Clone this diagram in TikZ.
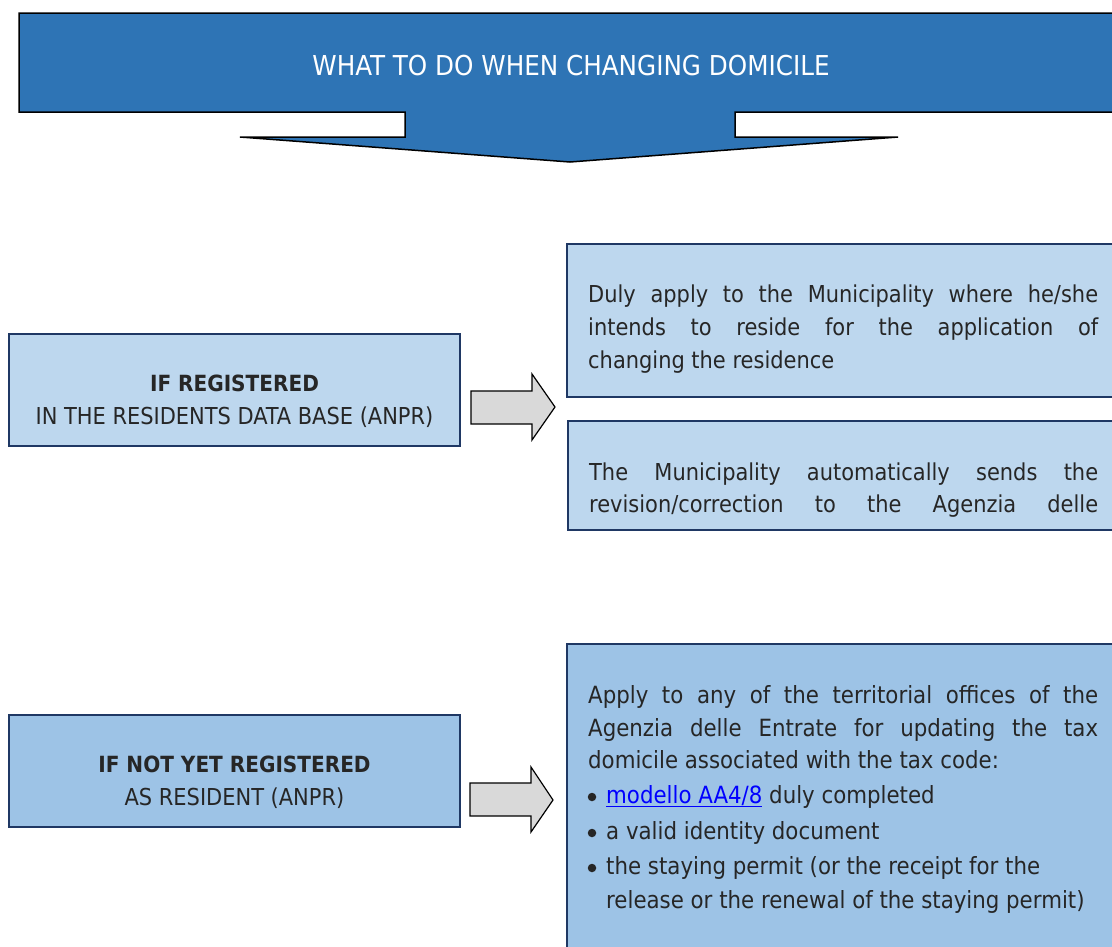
\documentclass[tikz,border=0pt]{standalone}
\usepackage{fontspec}
\setmainfont{DejaVu Sans Condensed}
\definecolor{banner}{HTML}{2E74B5}
\definecolor{lightbox}{HTML}{BDD7EE}
\definecolor{midbox}{HTML}{9DC3E6}
\definecolor{navy}{HTML}{1F3864}
\definecolor{txt}{HTML}{262626}
\definecolor{arrowgray}{HTML}{D9D9D9}
\definecolor{linkblue}{HTML}{0000FF}
\begin{document}
\begin{tikzpicture}[x=1pt,y=-1pt,
  box/.style={draw=navy, line width=1.6pt},
  blockarrow/.style={draw=black, fill=arrowgray, line width=1.2pt, line join=miter},
  bodytext/.style={anchor=base west, inner sep=0pt, text=txt, font=\fontsize{23.3}{33}\selectfont},
  listtext/.style={anchor=base west, inner sep=0pt, text=txt, font=\fontsize{23.7}{33}\selectfont},
  bulletdot/.style={circle, fill=txt, inner sep=0pt, minimum size=8.5pt},
  lefttext/.style={align=center, inner sep=0pt, text=txt, font=\fontsize{23.3}{33}\selectfont}]
\useasboundingbox (0,0) rectangle (1112,946);
\clip (0,0) rectangle (1112,946);
% banner
\draw[fill=banner, draw=black, line width=1.5pt, line join=miter]
  (19,13) -- (1130,13) -- (1130,112) -- (735,112) -- (735,137) -- (898,137)
  -- (570,162) -- (240,137) -- (405,137) -- (405,112) -- (19,112) -- cycle;
\node[text=white, inner sep=0pt, font=\fontsize{27.4}{30}\selectfont] (title) at (571,66) {WHAT TO DO WHEN CHANGING DOMICILE};
% left boxes
\node[box, fill=lightbox, minimum width=451pt, minimum height=112pt, inner sep=0pt] (reg) at (234.5,390) {};
\node[lefttext] (regtxt) at (234.5,401) {{\fontsize{22.3}{33}\selectfont\bfseries IF REGISTERED}\\IN THE RESIDENTS DATA BASE (ANPR)};
\node[box, fill=midbox, minimum width=451pt, minimum height=112pt, inner sep=0pt] (notreg) at (234.5,771) {};
\node[lefttext] (notregtxt) at (234.5,782) {{\fontsize{22.3}{33}\selectfont\bfseries IF NOT YET REGISTERED}\\AS RESIDENT (ANPR)};
% right boxes
\draw[box, fill=lightbox] (567,244) rectangle (1130,397);
\draw[box, fill=lightbox] (568,421) rectangle (1130,530);
\draw[box, fill=midbox] (567,644) rectangle (1130,960);
% block arrows
\draw[blockarrow] (471,391) -- (532,391) -- (532,374) -- (555,407) -- (532,440) -- (532,424) -- (471,424) -- cycle;
\draw[blockarrow] (470,783) -- (531,783) -- (531,767) -- (553,800) -- (531,832) -- (531,816) -- (470,816) -- cycle;
% right box 1 text
\node[bodytext] (a1) at (588,302) {\makebox[510pt][s]{Duly apply to the Municipality where he/she}};
\node[bodytext] (a2) at (588,335) {\makebox[510pt][s]{intends to reside for the application of}};
\node[bodytext] (a3) at (588,368) {changing the residence};
% right box 2 text
\node[bodytext] (b1) at (589,480) {\makebox[509pt][s]{The Municipality automatically sends the}};
\node[bodytext] (b2) at (589,512) {\makebox[509pt][s]{revision/correction to the Agenzia delle}};
% right box 3 text
\node[listtext] (c1) at (588,703) {\makebox[510pt][s]{Apply to any of the territorial offices of the}};
\node[listtext] (c2) at (588,736) {\makebox[510pt][s]{Agenzia delle Entrate for updating the tax}};
\node[listtext] (c3) at (588,768) {domicile associated with the tax code:};
\node[bulletdot] (d1b) at (592,797) {};
\node[listtext] (d1) at (606,803) {\textcolor{linkblue}{\underline{modello AA4/8}} duly completed};
\node[bulletdot] (d2b) at (592,833) {};
\node[listtext] (d2) at (606,839) {a valid identity document};
\node[bulletdot] (d3b) at (592,868) {};
\node[listtext] (d3) at (606,874) {the staying permit (or the receipt for the};
\node[listtext] (d4) at (606,908) {release or the renewal of the staying permit)};
\end{tikzpicture}
\end{document}
